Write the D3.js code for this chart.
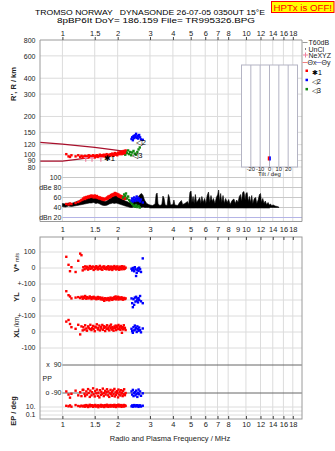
<!DOCTYPE html>
<html><head><meta charset="utf-8">
<script src="https://cdn.jsdelivr.net/npm/d3@7"></script>
<style>
body{margin:0;background:#fff;}
svg{display:block;font-family:"Liberation Sans",Arial,sans-serif;}
</style></head><body>
<svg id="c" width="335" height="451"></svg>
<script>
// ---------------- DATA ----------------
const topTicks=[1,1.5,2,3,4,5,6,7,8,10,12,14,16,18];
const midTicks=[1,1.5,2,3,4,5,6,7,8,9,10,12,14,16,18];
const botTicks=[1,1.5,2,3,4,5,6,7,8,10,12,14,16,18];
const hTicks=[800,600,400,300,200,150,120,100,90,80];
const dbTicks=[100,80,60,40,20];
const dbLabels=["100","dBe 80","60","40","dBn 20"];

// red (✱1) echoes
const redF=[1.05,1.08,1.10,1.12,1.18,1.22,1.25,1.27,1.29,
1.30,1.32,1.33,1.35,1.36,1.38,1.39,1.41,1.42,1.44,1.45,1.47,1.48,1.50,1.51,1.53,1.54,1.56,1.57,1.59,
1.60,1.62,1.63,1.65,1.66,1.68,1.69,1.71,1.72,1.74,1.75,1.77,1.78,1.80,1.81,1.83,1.84,1.86,1.87,1.89,
1.90,1.92,1.93,1.95,1.96,1.98,1.99,2.01,2.02,2.04,2.05,2.07,2.08,2.10,2.11,2.13,2.14,2.16,2.17,2.19,2.21];
const redH=[101,97,96,99,97,99,96,98,95,
97,95,98,96,97,95,99,96,98,97,96,99,97,95,98,97,99,96,98,97,
100,98,97,99,98,100,97,99,98,101,99,97,100,99,98,101,100,99,102,100,
98,101,103,100,102,101,99,103,104,101,102,105,103,101,106,104,102,107,105,103,108];
const redDB=[47,46,48,47,49,51,53,55,56,
58,60,57,61,59,62,60,63,61,64,62,63,60,64,62,60,63,59,61,58,
60,57,59,56,58,55,57,56,58,57,60,58,62,60,63,61,65,63,66,64,
67,65,69,66,68,65,67,63,66,62,64,61,63,60,62,59,61,58,60,57,58];
const redV=[70,20,-20,5,-25,45,90,80,-15,
5,-8,10,-3,8,-10,2,12,-5,7,-2,9,-12,4,-6,11,0,-9,6,-4,
13,-7,3,-11,8,-1,10,-5,2,-8,6,-3,11,-10,4,-6,9,0,-12,7,
-4,12,-2,5,-9,3,10,-6,1,-11,8,-3,6,-8,11,-1,4,-7,9,-4,2];
const redYL=[55,30,22,10,15,18,12,20,8,
20,12,25,8,18,15,10,22,14,6,17,11,20,9,15,5,13,19,7,12,
16,4,10,14,2,8,-5,11,6,0,9,3,12,-2,7,15,5,10,1,13,
6,18,8,22,4,14,10,20,3,16,9,12,5,17,7,11,2,8,13,6,10];
const redXL=[65,75,50,30,20,45,-15,35,10,
30,15,42,22,8,35,27,18,45,12,25,38,20,5,33,28,48,16,24,40,
10,30,22,44,14,36,26,6,32,20,42,18,28,10,38,24,46,15,30,22,
8,34,26,40,12,28,36,18,44,20,32,14,38,24,-5,30,16,42,22,26,12];
const redPP=[-80,-100,-120,-95,-75,-105,-85,-110,-70,
-70,-95,-110,-80,-100,-65,-90,-115,-75,-105,-85,-60,-98,-112,-78,-92,-68,-108,-88,-118,
-72,-102,-82,-95,-62,-110,-90,-76,-100,-85,-66,-105,-80,-115,-92,-70,-98,-84,-108,-74,
-96,-64,-112,-86,-102,-78,-90,-118,-68,-100,-82,-106,-72,-94,-88,-110,-76,-98,-66,-104,-90];
const redEP=[20,15,25,12,30,18,14,22,16,
15,25,12,30,18,10,22,35,14,20,28,11,24,16,32,13,19,26,9,21,
17,33,12,27,15,23,10,29,18,14,36,20,11,25,16,31,13,22,19,27,
12,34,17,24,10,28,15,21,38,14,26,18,30,11,23,16,20,32,13,25,19];

// blue (◁2) echoes
const blueF=[2.38,2.40,2.42,2.44,2.46,2.48,2.50,2.52,2.54,2.56,2.58,2.60,2.62,2.65,2.68,2.74];
const blueH=[133,137,130,140,135,142,138,146,136,141,134,139,143,137,132,131];
const blueDB=[54,58,52,56,60,55,53,58,62,57,54,59,55,52,56,50];
const blueV=[-5,-15,0,-10,-20,5,-8,-50,-30,-12,-3,-18,2,-8,-25,60];
const blueYL=[10,-20,-45,5,-30,15,-10,20,-5,8,-15,12,0,25,-8,-20];
const blueXL=[20,5,-5,30,10,40,15,25,0,35,18,8,28,12,-2,22];
const bluePP=[-80,-100,-70,-110,-90,-85,-105,-75,-95,-115,-88,-68,-98,-80,-108,-92];
const blueEP=[15,25,12,20,30,18,14,22,28,16,24,11,19,26,13,21];

// green (◁3) echoes
const greenF=[2.14,2.17,2.20,2.22,2.25,2.28,2.31,2.34,2.37,2.40,2.44,2.48,2.52,2.56,2.60,2.64];
const greenH=[102,104,100,106,103,108,101,105,99,104,107,102,100,105,110,114];
const greenDB=[60,66,63,68,58,62,55,52,50,47,44,42,45,41,43,40];

// NeXYZ markers (pink)
const nexF=[1.34,1.45,1.62];
const nexH=[93,93,93];

// model profile curves (dark red)
const modelUpF=[0.755,1.0,1.5,2.0,2.25];
const modelUpH=[125,121,114,108,106];
const modelLoF=[0.755,1.0,1.2,1.5,2.0,2.25];
const modelLoH=[89,89,92,96,101,104];

// echo amplitude trace (black): [MHz, low dB, high dB]
const blkTrace=[
[1.00,42,48],[1.04,41,47],[1.08,43,49],[1.12,42,48],[1.16,43,50],[1.20,44,52],[1.24,45,54],[1.28,46,56],
[1.32,47,58],[1.36,48,59],[1.40,49,61],[1.44,49,60],[1.48,50,62],[1.52,48,60],[1.56,49,61],[1.60,47,58],
[1.64,45,56],[1.68,44,53],[1.72,44,52],[1.76,45,54],[1.80,47,57],[1.84,48,59],[1.88,49,62],[1.92,48,63],
[1.96,49,65],[2.00,48,62],[2.04,47,60],[2.08,46,58],[2.12,45,56],[2.16,44,55],[2.20,43,53],[2.25,42,52],
[2.30,41,50],[2.35,40,49],[2.40,40,51],[2.45,41,53],[2.50,40,52],[2.55,41,55],[2.60,42,62],[2.65,41,66],
[2.70,40,68],[2.75,41,64],[2.80,40,55],[2.88,40,48],[2.95,40,46],
[3.00,39,45],[3.10,39,44],[3.20,39,47],[3.24,39,66],[3.28,39,69],[3.32,39,47],[3.40,39,44],[3.48,39,46],
[3.53,39,63],[3.58,39,58],[3.63,39,45],[3.72,39,44],[3.78,39,66],[3.83,39,60],[3.88,39,45],[4.00,39,46],
[4.05,39,55],[4.10,39,45],[4.25,39,44],[4.35,39,50],[4.45,39,54],[4.52,39,46],[4.65,39,48],[4.80,39,52],
[4.88,39,46],[4.95,39,70],[5.02,39,73],[5.08,39,50],[5.15,39,62],[5.22,39,48],[5.30,39,66],[5.38,39,50],
[5.50,39,55],[5.60,39,60],[5.68,39,48],[5.75,39,62],[5.85,39,50],[5.95,39,58],[6.05,39,48],[6.15,39,64],
[6.25,39,71],[6.35,39,50],[6.45,39,64],[6.55,39,52],[6.65,39,58],[6.78,39,48],[6.90,39,60],[7.02,39,66],
[7.10,39,75],[7.18,39,52],[7.28,39,68],[7.38,39,50],[7.50,39,64],[7.62,39,48],[7.75,39,58],[7.90,39,50],
[8.05,39,56],[8.20,39,46],[8.40,39,54],[8.60,39,57],[8.75,39,48],[8.90,39,55],[9.05,39,50],[9.20,39,62],
[9.35,39,66],[9.45,39,52],[9.60,39,70],[9.75,39,72],[9.90,39,55],[10.0,39,68],[10.15,39,70],[10.3,39,52],
[10.45,39,62],[10.6,39,50],[10.75,39,64],[10.9,39,48],[11.1,39,58],[11.3,39,60],[11.45,39,48],[11.65,39,55],
[11.85,39,66],[12.0,39,68],[12.15,39,50],[12.35,39,58],[12.55,39,48],[12.75,39,53],[12.95,39,46],[13.2,39,50],
[13.4,39,45],[13.6,40,47],[13.8,40,44],[14.1,40,45],[14.4,40,43],[14.8,40,42],[15.1,40,41]];

// tilt inset
const tiltGrid=[-20,-10,0,10,20];
const tiltMarkT=[-1,0.6];
const tiltMarkC=["#ff0000","#0000ff"];
const tiltMarkH0=[90,90];
const tiltMarkH1=[97,97];

// legend
const legendSeries=["✱1","◁2","◁3"];
const seriesColors=["#ff0000","#0000ff","#118811"];

// bottom panel row labels
const rowLabels=[["v",100,"100"],["v",0,"0"],["v",-100,"+-100"],["yl",0,"0"],["yl",-100,"+-100"],["xl",0,"0"],["xl",-100,"-100"],["ep",10,"10."],["ep",0.1,"0.1"]];

// ---------------- DRAW ----------------
const svg=d3.select("#c");
const X0=40,X1=302;
const x=d3.scaleLog().domain([0.755,20.2]).range([X0,X1]);
const yH=d3.scaleLog().domain([80,800]).range([167,40]);
const yDB=d3.scaleLinear().domain([20,100]).range([217.5,177.5]);
const tilt=d3.scaleLinear().domain([-30,30]).range([241.5,297.5]);
const rows={
  v:d3.scaleLinear().domain([-100,100]).range([284,252]),
  yl:d3.scaleLinear().domain([-100,100]).range([316,284]),
  xl:d3.scaleLinear().domain([-100,100]).range([348,316]),
  pp:d3.scaleLinear().domain([-90,90]).range([393,365]),
  ep:d3.scaleLog().domain([0.1,10]).range([415,407])
};
const GRID="#dcdcdc", FRAME="#9a9a9a", TXT="#222";
const TOP=40, MIDB=221.5, BT=237, BB=419;

// title
svg.append("text").attr("x",35).attr("y",14.5).attr("font-size",7.6).attr("fill","#000")
  .attr("textLength",230).attr("lengthAdjust","spacingAndGlyphs").style("white-space","pre")
  .text("TROMSO NORWAY   DYNASONDE 26-07-05 0350UT 15°E");
svg.append("text").attr("x",57).attr("y",23).attr("font-size",7.6).attr("fill","#000")
  .attr("textLength",198).attr("lengthAdjust","spacingAndGlyphs").style("white-space","pre")
  .text("8pBP6It DoY= 186.159 File= TR995326.BPG");
svg.append("rect").attr("x",271.5).attr("y",1.5).attr("width",62.5).attr("height",11)
  .attr("fill","#ffff00").attr("stroke","#ff0000").attr("stroke-width",1);
svg.append("text").attr("x",273.5).attr("y",10.5).attr("font-size",8.5).attr("fill","#ff0000")
  .attr("textLength",58.5).attr("lengthAdjust","spacingAndGlyphs").style("white-space","pre")
  .text("HPTx is OFF!");

// ---- upper frame grids ----
const g1=svg.append("g");
g1.selectAll("line.vg").data(topTicks).join("line").attr("x1",d=>x(d)).attr("x2",d=>x(d))
  .attr("y1",TOP).attr("y2",MIDB).attr("stroke",GRID);
g1.selectAll("line.hg").data(hTicks.slice(1)).join("line").attr("x1",X0).attr("x2",X1)
  .attr("y1",d=>yH(d)).attr("y2",d=>yH(d)).attr("stroke",GRID);
g1.selectAll("line.dg").data(dbTicks).join("line").attr("x1",x(1)).attr("x2",X1)
  .attr("y1",d=>yDB(d)).attr("y2",d=>yDB(d)).attr("stroke",d=>d===20?"#b4b4e6":"#c8c8c8");

// bottom grids
const g2=svg.append("g");
g2.selectAll("line").data(topTicks).join("line").attr("x1",d=>x(d)).attr("x2",d=>x(d))
  .attr("y1",BT).attr("y2",BB).attr("stroke",GRID);
const lightRows=[["v",100],["v",0],["v",-100],["yl",0],["yl",-100],["xl",0],["xl",-100],["ep",10],["ep",1],["ep",0.1]];
g2.selectAll("line.r").data(lightRows).join("line").attr("x1",X0).attr("x2",X1)
  .attr("y1",d=>rows[d[0]](d[1])).attr("y2",d=>rows[d[0]](d[1])).attr("stroke",GRID);
g2.selectAll("line.p").data([90,-90]).join("line").attr("x1",x(1)).attr("x2",X1)
  .attr("y1",d=>rows.pp(d)).attr("y2",d=>rows.pp(d)).attr("stroke","#666");

// ---- dBe black trace ----
svg.append("path").datum(blkTrace).attr("fill","#000").attr("stroke","#000").attr("stroke-width",0.6)
  .attr("d",d3.area().x(d=>x(d[0])).y0(d=>yDB(d[1])).y1(d=>yDB(d[2])));

// ---- model lines ----
const lineGen=d3.line().x(d=>x(d[0])).y(d=>yH(d[1]));
svg.append("path").datum(modelUpF.map((f,i)=>[f,modelUpH[i]])).attr("fill","none")
  .attr("stroke","#a8102c").attr("stroke-width",1.2).attr("d",lineGen);
svg.append("path").datum(modelLoF.map((f,i)=>[f,modelLoH[i]])).attr("fill","none")
  .attr("stroke","#a8102c").attr("stroke-width",1.2).attr("d",lineGen);

// points helper
function pts(fs,vs,sc,color,s){
  s=s||2.4;
  svg.append("g").selectAll("rect").data(fs.map((f,i)=>[f,vs[i]])).join("rect")
    .attr("x",d=>x(d[0])-s/2).attr("y",d=>sc(d[1])-s/2).attr("width",s).attr("height",s)
    .attr("fill",color);
}
// heights
pts(greenF,greenH,yH,seriesColors[2]);
pts(redF,redH,yH,seriesColors[0]);
pts(blueF,blueH,yH,seriesColors[1]);
// NeXYZ
svg.append("g").selectAll("path").data(nexF.map((f,i)=>[f,nexH[i]])).join("path")
  .attr("d",d=>`M${x(d[0])-2},${yH(d[1])-1}h4M${x(d[0])},${yH(d[1])-1}v4`)
  .attr("stroke","#f080a0").attr("stroke-width",1.2);
// trace labels
const tl=[[1.68,90,"✱1"],[2.51,119,"◁2"],[2.40,94,"◁3"]];
svg.append("g").selectAll("text").data(tl).join("text").attr("x",d=>x(d[0])).attr("y",d=>yH(d[1]))
  .attr("font-size",7.5).attr("fill","#000").text(d=>d[2]);

// dBe points
pts(redF,redDB,yDB,seriesColors[0]);
pts(greenF,greenDB,yDB,seriesColors[2]);
pts(blueF,blueDB,yDB,seriesColors[1]);

// bottom rows points
[["v",redV,blueV],["yl",redYL,blueYL],["xl",redXL,blueXL],["pp",redPP,bluePP],["ep",redEP,blueEP]].forEach(r=>{
  pts(redF,r[1],rows[r[0]],seriesColors[0]);
  pts(blueF,r[2],rows[r[0]],seriesColors[1]);
});

// ---- tilt inset ----
const iy0=65, iy1=167;
svg.append("rect").attr("x",tilt(-30)).attr("y",iy0).attr("width",tilt(30)-tilt(-30)).attr("height",iy1-iy0)
  .attr("fill","#fff").attr("stroke","#b4b4c4");
svg.append("g").selectAll("line").data(tiltGrid).join("line").attr("x1",d=>tilt(d)).attr("x2",d=>tilt(d))
  .attr("y1",iy0).attr("y2",iy1).attr("stroke","#b4b4c4");
svg.append("g").selectAll("rect").data(tiltMarkT.map((t,i)=>i)).join("rect")
  .attr("x",i=>tilt(tiltMarkT[i])-0.8).attr("y",i=>yH(tiltMarkH1[i])).attr("width",1.6)
  .attr("height",i=>yH(tiltMarkH0[i])-yH(tiltMarkH1[i])).attr("fill",i=>tiltMarkC[i]);
svg.append("g").selectAll("text").data(tiltGrid).join("text").attr("x",d=>tilt(d)).attr("y",170.5)
  .attr("text-anchor","middle").attr("font-size",5.8).attr("fill",TXT).text(d=>d);
svg.append("text").attr("x",tilt(0)).attr("y",175.5).attr("text-anchor","middle").attr("font-size",6)
  .attr("fill",TXT).text("Tilt / deg");

// ---- frames ----
svg.append("path").attr("d",`M${X0},${TOP}H${X1}V${MIDB}H${X0}Z`).attr("fill","none").attr("stroke",FRAME);
svg.append("rect").attr("x",X0).attr("y",BT).attr("width",X1-X0).attr("height",BB-BT).attr("fill","none").attr("stroke",FRAME);

// ---- axes ----
function styleAxis(g,fs){
  g.attr("font-family","Liberation Sans, Arial, sans-serif").attr("font-size",fs||7.5).attr("color",TXT);
  g.select(".domain").remove();
  g.selectAll("line").attr("stroke","#444");
}
svg.append("g").attr("transform",`translate(0,${TOP})`)
  .call(d3.axisTop(x).tickValues(topTicks).tickSize(3).tickPadding(1.5).tickFormat(d3.format("")))
  .call(styleAxis);
svg.append("g").attr("transform",`translate(0,${MIDB})`)
  .call(d3.axisBottom(x).tickValues(midTicks).tickSize(0).tickPadding(5.3).tickFormat(d3.format("")))
  .call(styleAxis);
svg.append("g").attr("transform",`translate(0,${BT})`)
  .call(d3.axisTop(x).tickValues(botTicks).tickSize(-3).tickFormat(""))
  .call(styleAxis);
svg.append("g").attr("transform",`translate(0,${BB})`)
  .call(d3.axisBottom(x).tickValues(botTicks).tickSize(-3).tickPadding(2.8).tickFormat(d3.format("")))
  .call(styleAxis);
svg.append("g").attr("transform",`translate(${X0},0)`)
  .call(d3.axisLeft(yH).tickValues(hTicks).tickSize(0).tickPadding(4.5).tickFormat(d3.format("")))
  .call(g=>styleAxis(g,7));
svg.append("g").attr("transform",`translate(${x(1)},0)`)
  .call(d3.axisLeft(yDB).tickValues(dbTicks).tickSize(0).tickPadding(1).tickFormat((d,i)=>dbLabels[i]))
  .call(g=>styleAxis(g,7));

// bottom panel labels
svg.append("g").selectAll("text").data(rowLabels).join("text")
  .attr("x",35.5).attr("y",d=>rows[d[0]](d[1])).attr("dy","0.35em").attr("text-anchor","end")
  .attr("font-size",7).attr("fill",TXT).text(d=>d[2]);
svg.append("text").attr("x",61.5).attr("y",rows.pp(90)).attr("dy","0.35em").attr("text-anchor","end")
  .attr("font-size",7).attr("fill",TXT).style("white-space","pre").text("x  90");
svg.append("text").attr("x",61.5).attr("y",rows.pp(-90)).attr("dy","0.35em").attr("text-anchor","end")
  .attr("font-size",7).attr("fill",TXT).style("white-space","pre").text("o -90");
svg.append("text").attr("x",42.5).attr("y",rows.pp(0)).attr("dy","0.35em")
  .attr("font-size",7).attr("fill",TXT).text("PP");

// rotated axis titles
function vlabel(xp,yp,t,fs,bold){
  svg.append("text").attr("transform",`translate(${xp},${yp}) rotate(-90)`).attr("text-anchor","middle")
    .attr("font-size",fs).attr("font-weight",bold?"bold":"normal").attr("fill",TXT).text(t);
}
vlabel(16,84,"R', R / km",7.5,true);
vlabel(19,268,"V*",7.5,true);
vlabel(19,257.5,"m/s",5.5,false);
vlabel(19,297,"YL",7.5,true);
vlabel(19,322,"/km",6.5,false);
vlabel(19,333,"XL",7.5,true);
vlabel(16,411,"EP / deg",7.5,true);

svg.append("text").attr("x",(X0+X1)/2-1).attr("y",441).attr("text-anchor","middle")
  .attr("font-size",7.5).attr("fill",TXT).text("Radio and Plasma Frequency / MHz");

// ---- legend ----
const lg=svg.append("g").attr("font-size",7).attr("fill",TXT);
lg.append("line").attr("x1",302.5).attr("x2",307.5).attr("y1",42.5).attr("y2",42.5).attr("stroke","#999");
lg.append("text").attr("x",308.5).attr("y",45).text("T60dB");
lg.append("rect").attr("x",305).attr("y",48.5).attr("width",1).attr("height",1).attr("fill","#000");
lg.append("text").attr("x",308.5).attr("y",51.5).text("UnCl");
lg.append("path").attr("d","M303,55h5M305.5,52.5v5").attr("stroke","#f080a0");
lg.append("text").attr("x",308.5).attr("y",58).text("NeXYZ");
lg.append("line").attr("x1",302.5).attr("x2",307.5).attr("y1",62.5).attr("y2",62.5).attr("stroke","#f08080");
lg.append("text").attr("x",307.5).attr("y",65).text("Θx");
lg.append("line").attr("x1",315.5).attr("x2",321.5).attr("y1",62.5).attr("y2",62.5).attr("stroke","#9090e0");
lg.append("text").attr("x",321.5).attr("y",65).text("Θy");
lg.selectAll("rect.s").data(legendSeries).join("rect").attr("x",305.5).attr("y",(d,i)=>69.5+i*9.2)
  .attr("width",2.5).attr("height",2.5).attr("fill",(d,i)=>seriesColors[i]);
lg.selectAll("text.s").data(legendSeries).join("text").attr("x",312).attr("y",(d,i)=>74.5+i*9.2)
  .attr("fill","#000").text(d=>d);
</script>
</body></html>
